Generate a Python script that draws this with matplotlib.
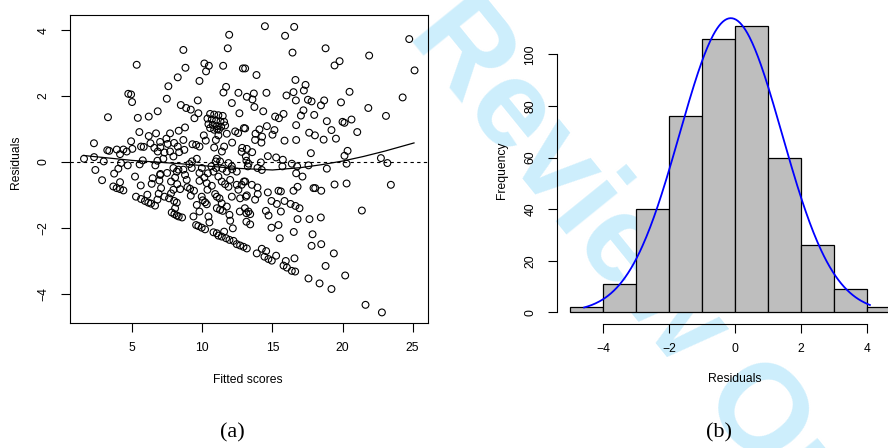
import numpy as np
import matplotlib
matplotlib.use("Agg")
import matplotlib.pyplot as plt

# residuals vs fitted scores
fitted = [
    14.46, 16.55, 15.9, 16.43, 18.79, 24.76, 25.14, 21.9, 19.79, 19.43, 13.86, 16.64, 17.36, 17.24, 16.5,
    16.0, 14.57, 13.67, 13.17, 13.57, 16.67, 17.53, 17.79, 18.69, 18.46, 19.89, 20.5, 24.29, 21.84, 23.1,
    13.71, 14.34, 17.21, 15.19, 15.46, 15.79, 17.03, 17.98, 18.88, 20.0, 20.14, 20.64, 19.21, 21.05, 19.53,
    18.65, 18.03, 17.62, 16.69, 16.69, 15.86, 14.6, 14.07, 13.79, 15.14, 15.0, 14.26, 14.21, 13.76, 13.05,
    13.05, 13.17, 13.55, 14.67, 15.26, 15.74, 17.74, 20.14, 20.36, 22.74, 23.2, 20.29, 18.88, 17.57, 15.71,
    16.76, 16.38, 14.17, 13.93, 14.24, 13.29,
    11.91, 11.81, 8.64, 5.31, 8.79, 10.14, 10.46, 10.26, 11.48, 12.89, 8.24, 9.79, 7.57, 11.69, 11.5,
    12.57, 4.71, 4.91, 4.98, 7.46, 8.46, 8.84, 9.17, 9.67, 9.71, 9.43, 12.1, 12.64, 6.81, 6.17,
    5.39, 3.26, 8.76, 8.31, 7.69, 6.69, 6.17, 5.5, 4.91, 2.26,
    10.55, 10.84, 11.14, 11.45, 10.36, 10.67, 10.98, 11.29, 11.55, 10.43, 10.74, 11.03, 11.34, 11.62, 10.55,
    10.84, 11.17,
    1.55, 2.27, 2.96, 2.36, 3.21, 3.35, 3.89, 4.12, 4.36, 4.6, 5.0, 4.19, 4.0, 3.7, 4.67,
    5.52, 5.74, 5.62, 5.81, 6.29, 6.57, 6.81, 6.98, 7.0, 7.43, 7.52, 7.69, 7.29, 7.98, 8.24,
    8.34, 8.64, 8.71, 7.93, 7.21, 6.79, 6.64, 7.0, 7.93, 8.29, 9.07, 9.26, 9.6, 9.96, 9.29,
    9.55, 9.79, 10.1, 10.24, 10.84, 10.96, 11.14, 11.05, 11.39, 11.55, 11.74, 12.12, 12.34, 12.55, 12.96,
    12.84, 12.8, 13.1, 13.14, 12.1, 12.12, 11.86, 11.26, 11.03, 10.95, 10.64, 10.98, 11.43, 10.39,
    2.84, 3.64, 3.88, 4.12, 4.36, 4.12, 5.19, 5.6, 5.26, 5.62, 5.9, 6.14, 6.33, 6.62, 6.07,
    6.79, 6.45, 6.38, 6.98, 6.93, 7.05, 6.88, 7.29, 7.62, 7.76, 7.98, 8.17, 7.81, 8.0, 8.17,
    8.31, 8.55, 8.05, 7.76, 8.2, 8.41, 7.93, 8.05, 8.76, 8.88, 8.93, 9.12, 9.17, 9.4, 9.36,
    9.55, 9.71, 9.95, 10.19, 9.79, 9.6, 9.79, 9.95, 10.02, 10.19, 10.31, 10.14, 10.31, 10.36, 10.43,
    10.5, 10.67, 10.79, 11.03, 11.14, 11.38, 11.55, 11.69, 11.93, 12.22, 12.45, 12.69, 12.93, 13.17, 10.91,
    11.03, 11.22, 11.38, 11.03, 11.26, 11.45, 11.74, 11.93, 11.98, 12.17, 11.14, 11.38, 11.62, 11.86, 11.98,
    12.1, 12.45, 12.57, 12.69, 12.8, 12.96, 13.1, 13.03, 13.14, 13.14, 12.67, 9.24, 9.79, 10.79, 11.74,
    12.45, 8.17, 8.64, 7.48,
    13.24, 16.69, 17.14, 13.05, 13.53, 13.93, 13.17, 13.76, 13.95, 14.67, 15.43, 15.6, 16.5, 16.79, 17.93,
    18.05, 18.48, 19.43, 20.29, 23.45, 14.93, 15.31, 15.86, 16.29, 16.64, 16.93, 13.29, 13.41, 14.53, 14.72,
    15.6, 16.79, 17.64, 18.45, 21.38, 13.41, 14.93, 15.43, 15.52, 16.52, 17.86, 18.48, 17.79, 19.38, 13.88,
    14.24, 14.55, 14.43, 14.71, 14.95, 15.26, 15.79, 16.03, 15.95, 16.38, 16.62, 16.57, 17.57, 18.36, 18.79,
    19.21, 20.19, 21.64, 22.81,
]
residuals = [
    4.12, 4.10, 3.83, 3.32, 3.45, 3.73, 2.78, 3.23, 3.06, 2.93, 2.64, 2.49, 2.34, 2.17, 2.12,
    2.02, 2.10, 2.08, 1.98, 1.90, 1.87, 1.89, 1.84, 1.87, 1.72, 1.81, 2.13, 1.96, 1.64, 1.40,
    1.67, 1.54, 1.57, 1.38, 1.33, 1.46, 1.41, 1.43, 1.24, 1.22, 1.19, 1.29, 0.97, 0.91, 0.71,
    0.68, 0.81, 0.89, 1.12, 0.67, 0.65, 1.09, 0.99, 0.86, 0.97, 0.83, 0.77, 0.59, 0.67, 1.02,
    2.84, 0.40, 0.30, 0.18, 0.14, 0.07, 0.27, 0.19, 0.34, 0.12, -0.03, -0.05, -0.20, -0.10, -0.13,
    -0.13, -0.05, -0.01, -0.18, -0.24, -0.05,
    3.86, 3.45, 3.40, 2.95, 2.86, 2.99, 2.92, 2.75, 2.92, 2.84, 2.57, 2.46, 2.30, 2.28, 2.11,
    2.10, 2.07, 2.05, 1.82, 1.92, 1.73, 1.64, 1.59, 1.87, 1.48, 1.33, 1.79, 1.48, 1.54, 1.38,
    1.34, 1.36, 1.05, 0.95, 0.87, 0.87, 0.79, 0.91, 0.63, 0.57,
    1.46, 1.44, 1.42, 1.40, 1.32, 1.29, 1.26, 1.23, 1.22, 1.15, 1.13, 1.09, 1.07, 1.11, 1.03,
    0.98, 0.98,
    0.10, 0.15, 0.02, -0.24, 0.36, 0.34, 0.38, 0.24, 0.38, 0.32, 0.40, -0.03, -0.20, -0.35, -0.10,
    -0.07, 0.05, 0.47, 0.46, 0.57, 0.43, 0.32, 0.61, 0.45, 0.71, 0.55, 0.32, 0.29, 0.58, 0.47,
    0.30, 0.67, 0.37, 0.17, 0.10, 0.04, -0.10, -0.36, -0.18, -0.23, -0.06, 0.02, 0.10, -0.18, 0.54,
    0.52, 0.47, 0.81, 0.65, 0.44, 0.67, 0.81, 1.00, 0.32, 0.47, 0.86, 0.59, 0.93, 0.88, 1.03,
    0.43, 0.31, 0.17, 0.04, -0.13, -0.22, -0.03, 0.02, 0.10, 0.02, -0.13, -0.18, -0.20, -0.34,
    -0.55, -0.74, -0.79, -0.82, -0.86, -0.61, -0.44, -0.71, -1.05, -1.12, -1.18, -1.23, -1.26, -1.32, -0.99,
    -1.14, -0.49, -0.66, -0.39, -0.56, -0.79, -0.96, -1.05, -1.10, -0.95, -1.18, -1.23, -1.53, -1.58, -1.62,
    -1.65, -1.68, -0.47, -0.59, -0.67, -0.82, -0.84, -1.40, -0.39, -0.54, -0.76, -0.81, -1.02, -0.87, -1.65,
    -1.91, -1.94, -1.99, -2.04, -1.50, -1.30, -0.57, -1.05, -1.16, -1.22, -1.28, -0.47, -0.64, -0.84, -1.65,
    -1.83, -0.72, -2.13, -2.16, -2.23, -2.26, -2.11, -2.31, -2.36, -2.39, -2.49, -2.53, -2.57, -2.62, -0.97,
    -1.05, -1.10, -1.25, -1.40, -1.45, -1.48, -1.35, -1.60, -1.78, -2.01, -0.44, -0.59, -0.67, -0.75, -0.54,
    -1.05, -0.69, -0.84, -1.10, -0.69, -0.59, -1.05, -1.40, -1.81, -1.55, -1.50, -0.18, -0.33, -0.29, -0.29,
    -0.29, -0.29, -0.23, -0.33,
    -0.13, -0.34, -0.44, -0.59, -0.69, -0.77, -1.01, -1.14, -0.97, -0.92, -0.87, -0.89, -0.87, -0.75, -0.79,
    -0.79, -0.87, -0.68, -0.65, -0.69, -1.18, -1.27, -1.18, -1.27, -1.33, -1.40, -1.50, -1.58, -1.48, -1.62,
    -1.50, -1.73, -1.73, -1.68, -1.47, -1.89, -1.99, -1.91, -2.31, -2.12, -2.19, -2.49, -2.54, -2.77, -2.77,
    -2.63, -2.70, -2.87, -2.94, -2.99, -2.84, -3.14, -3.20, -3.00, -3.30, -3.32, -2.92, -3.53, -3.68, -3.15,
    -3.85, -3.44, -4.33, -4.56,
]

# smoother through the residuals
smooth_x = [1.5, 5.0, 8.4, 12.0, 15.0, 17.0, 18.5, 20.0, 21.5, 23.0, 25.1]
smooth_y = [0.20, 0.05, -0.05, -0.18, -0.24, -0.17, -0.08, 0.03, 0.17, 0.33, 0.58]

# histogram of residuals, panel (b)
bin_edges = [-5, -4, -3, -2, -1, 0, 1, 2, 3, 4, 5]
counts = [2, 11, 40, 76, 106, 111, 60, 26, 9, 2]
# fitted normal curve: mean, sd, n, range drawn
norm_mean, norm_sd, norm_n = -0.13, 1.55, 443
curve_from, curve_to = -4.57, 4.08

plt.rcParams['font.family'] = ['Liberation Sans', 'DejaVu Sans']
plt.rcParams['font.size'] = 8.7

W, H = 888, 448
fig = plt.figure(figsize=(W / 100, H / 100), dpi=100)

def px_axes(l, r, t, b):
    return fig.add_axes([l / W, 1 - b / H, (r - l) / W, (b - t) / H])

# watermark behind everything (cut by the page edge, as in the source)
fig.text(590 / W, 1 - 212 / H, 'For Review Only', fontsize=90, fontweight='bold',
         color='#cdeefc', rotation=-51, rotation_mode='anchor', ha='center', va='center',
         zorder=-5)

# ---- panel (a)
ax1 = px_axes(70, 428, 15, 323.3)
ax1.patch.set_alpha(0)
ax1.scatter(fitted, residuals, s=24, facecolors='none', edgecolors='black', linewidths=0.8, zorder=3)
ax1.axhline(0, color='black', lw=0.8, ls=(0, (3, 3)))
ax1.plot(smooth_x, smooth_y, color='black', lw=0.9)
ax1.set_xlim(0.55, 26.1)
ax1.set_ylim(-4.89, 4.46)
ax1.set_xticks([5, 10, 15, 20, 25])
ax1.set_yticks([-4, -2, 0, 2, 4])
ax1.tick_params(direction='out', length=6.5, width=0.8, pad=7)
ax1.tick_params(axis='y', labelrotation=90, pad=8)
for lab in ax1.get_yticklabels():
    lab.set_va('center')
for sp in ax1.spines.values():
    sp.set_linewidth(0.8)

fig.text(248 / W, 1 - 380 / H, 'Fitted scores', ha='center', va='center')
fig.text(16 / W, 1 - 162 / H, 'Residuals', ha='center', va='center', rotation=90)
fig.text(232 / W, 1 - 433 / H, '(a)', ha='center', va='center', fontsize=16,
         family=['Liberation Serif', 'DejaVu Serif'])

# ---- panel (b)
ax2 = px_axes(556.7, 913.5, 14.5, 323.8)
ax2.patch.set_alpha(0)
ax2.bar(bin_edges[:-1], counts, width=1, align='edge', color='#bebebe',
        edgecolor='black', linewidth=0.9, zorder=2)
xs = np.linspace(curve_from, curve_to, 300)
dens = norm_n / (norm_sd * np.sqrt(2 * np.pi)) * np.exp(-0.5 * ((xs - norm_mean) / norm_sd) ** 2)
ax2.plot(xs, dens, color='#0000ff', lw=1.3, zorder=3)
ax2.set_xlim(-5.4, 5.4)
ax2.set_ylim(-4.44, 115.44)
ax2.set_xticks([-4, -2, 0, 2, 4])
ax2.set_xticklabels(['\u22124', '\u22122', '0', '2', '4'])
ax2.set_yticks([0, 20, 40, 60, 80, 100])
ax2.spines['top'].set_visible(False)
ax2.spines['right'].set_visible(False)
ax2.spines['left'].set_bounds(0, 100)
ax2.spines['bottom'].set_bounds(-4, 4)
for sp in ax2.spines.values():
    sp.set_linewidth(0.8)
ax2.tick_params(direction='out', length=6.5, width=0.8, pad=7)
ax2.tick_params(axis='y', labelrotation=90, pad=8)
for lab in ax2.get_yticklabels():
    lab.set_va('center')

fig.text(735 / W, 1 - 379 / H, 'Residuals', ha='center', va='center')
fig.text(502 / W, 1 - 170 / H, 'Frequency', ha='center', va='center', rotation=90)
fig.text(719 / W, 1 - 433 / H, '(b)', ha='center', va='center', fontsize=16,
         family=['Liberation Serif', 'DejaVu Serif'])

fig.savefig('out.png', dpi=100)
